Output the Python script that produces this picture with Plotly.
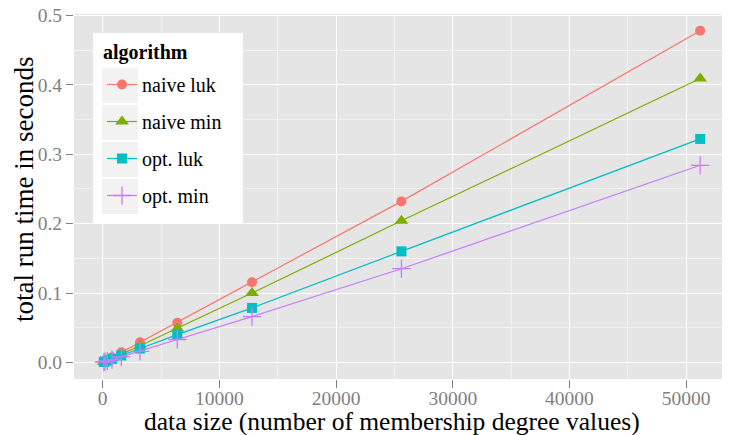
import plotly.graph_objects as go

sizes = [100, 200, 400, 800, 1600, 3200, 6400, 12800, 25600, 51200]
naive_luk = [0.0010, 0.0019, 0.0037, 0.0073, 0.0145, 0.029, 0.057, 0.1155, 0.232, 0.478]
naive_min = [0.0008, 0.0015, 0.0030, 0.0060, 0.0120, 0.024, 0.049, 0.100, 0.204, 0.409]
opt_luk = [0.0007, 0.0013, 0.0025, 0.0050, 0.0100, 0.020, 0.040, 0.0785, 0.160, 0.322]
opt_min = [0.0005, 0.0010, 0.0020, 0.0040, 0.0080, 0.016, 0.033, 0.066, 0.135, 0.284]

series_names = ["naive luk", "naive min", "opt. luk", "opt. min"]
series_values = [naive_luk, naive_min, opt_luk, opt_min]
colors = ["#F8766D", "#7CAE00", "#00BFC4", "#C77CFF"]
symbols = ["circle", "triangle-up", "square", "cross-thin"]
msizes = [10, 12, 10, 13]

x_ticks = [0, 10000, 20000, 30000, 40000, 50000]
y_ticks = [0.0, 0.1, 0.2, 0.3, 0.4, 0.5]
y_tick_text = ["0.0", "0.1", "0.2", "0.3", "0.4", "0.5"]

# page body adds an 8px margin; work in figure pixels = screen pixels - 8
OFF = 8
W, H = 730 - OFF, 435 - OFF
L, R, T, B = 74 - OFF, 0, 14 - OFF, 435 - 379
FONT = "Liberation Serif"

fig = go.Figure()
for name, vals, c, s, ms in zip(series_names, series_values, colors, symbols, msizes):
    fig.add_trace(go.Scatter(
        x=sizes, y=vals, name=name, mode="lines+markers",
        legendgroup=name,
        line=dict(color=c, width=1.2),
        marker=dict(symbol=s, size=ms, color=c, line=dict(color=c, width=1.3 if s == "cross-thin" else 0)),
    ))

xr = [-2455, 53755]
yr = [-0.0239, 0.502]

fig.update_xaxes(
    range=xr, tickvals=x_ticks, ticktext=[str(v) for v in x_ticks],
    showgrid=True, gridcolor="white", gridwidth=1.2,
    minor=dict(dtick=5000, tick0=5000, showgrid=True, gridcolor="#F2F2F2", gridwidth=0.6, ticks=""),
    zeroline=False, ticks="outside", ticklen=8, tickcolor="#7F7F7F", tickwidth=1,
    tickfont=dict(family=FONT, size=19.5, color="#7F7F7F"),
    ticklabelstandoff=-6, ticklabeloverflow="allow",
    showline=False, automargin=False,
)
fig.update_yaxes(
    range=yr, tickvals=y_ticks, ticktext=y_tick_text,
    showgrid=True, gridcolor="white", gridwidth=1.2,
    minor=dict(dtick=0.05, tick0=0.05, showgrid=True, gridcolor="#F2F2F2", gridwidth=0.6, ticks=""),
    zeroline=False, ticks="outside", ticklen=7, tickcolor="#7F7F7F", tickwidth=1,
    tickfont=dict(family=FONT, size=19.5, color="#7F7F7F"),
    ticklabeloverflow="allow",
    showline=False, automargin=False,
)

pw, ph = W - L - R, H - T - B
def px(xs):  # screen pixel -> paper fraction
    return (xs - OFF - L) / pw
def py(ys):
    return 1 - (ys - OFF - T) / ph

shapes = [dict(type="rect", xref="paper", yref="paper", layer="above",
               x0=px(93), x1=px(243), y0=py(223), y1=py(33),
               fillcolor="white", line=dict(width=0))]
for i in range(4):
    top = 68 + i * 37
    shapes.append(dict(type="rect", xref="paper", yref="paper", layer="above",
                       x0=px(102), x1=px(138), y0=py(top + 35), y1=py(top),
                       fillcolor="#F2F2F2", line=dict(width=0)))

annotations = [
    dict(text="<b>algorithm</b>", xref="paper", yref="paper", x=px(101), y=py(52),
         xanchor="left", yanchor="middle", showarrow=False,
         font=dict(family=FONT, size=20, color="black")),
    dict(text="total run time in seconds", xref="paper", yref="paper", x=px(24), y=py(190),
         xanchor="center", yanchor="middle", showarrow=False, textangle=-90,
         font=dict(family=FONT, size=27, color="black")),
    dict(text="data size (number of membership degree values)", xref="paper", yref="paper",
         x=px(392), y=py(421), xanchor="center", yanchor="middle", showarrow=False,
         font=dict(family=FONT, size=25.5, color="black")),
]

fig.update_layout(
    width=W, height=H,
    margin=dict(l=L, r=R, t=T, b=B),
    paper_bgcolor="white", plot_bgcolor="#E5E5E5",
    font=dict(family=FONT),
    shapes=shapes,
    annotations=annotations,
    legend=dict(
        x=px(102), y=py(65), xanchor="left", yanchor="top",
        bgcolor="rgba(0,0,0,0)", borderwidth=0,
        font=dict(family=FONT, size=20, color="black"),
        tracegroupgap=8, itemwidth=30,
    ),
)

fig.write_html("out.html")
